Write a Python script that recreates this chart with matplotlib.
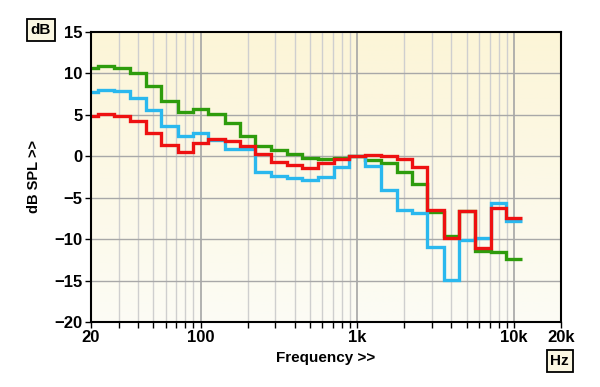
import numpy as np
import matplotlib
matplotlib.use('Agg')
import matplotlib.pyplot as plt
from matplotlib.ticker import FixedLocator, FixedFormatter, NullLocator

plt.rcParams['font.family'] = ['Liberation Sans', 'DejaVu Sans']

# third-octave band centres (Hz)
bandas = [20, 25, 31.5, 40, 50, 63, 80, 100, 125, 160, 200, 250, 315, 400,
          500, 630, 800, 1000, 1250, 1600, 2000, 2500, 3150, 4000, 5000,
          6300, 8000, 10000]

verde = [10.6, 10.9, 10.6, 10.0, 8.5, 6.7, 5.3, 5.7, 5.1, 4.0, 2.45, 1.2,
         0.7, 0.25, -0.15, -0.3, -0.15, 0.0, -0.5, -0.8, -1.95, -3.4, -6.7,
         -9.65, -6.6, -11.4, -11.6, -12.4]
azul = [7.8, 8.05, 7.85, 7.05, 5.6, 3.7, 2.45, 2.85, 1.95, 0.9, 0.9, -1.95,
        -2.4, -2.65, -2.9, -2.55, -1.25, 0.0, -1.2, -4.05, -6.45, -6.8,
        -11.0, -14.9, -10.1, -9.85, -5.6, -7.8]
vermelho = [4.85, 5.15, 4.9, 4.2, 2.8, 1.35, 0.55, 1.55, 2.05, 1.85, 1.25,
            0.25, -0.65, -1.05, -1.4, -0.85, -0.3, 0.0, 0.2, 0.05, -0.3,
            -1.25, -6.45, -9.9, -6.6, -11.1, -6.2, -7.4]

x_ticks = [20, 100, 1000, 10000, 20000]
x_labels = ['20', '100', '1k', '10k', '20k']
y_ticks = [15, 10, 5, 0, -5, -10, -15, -20]

# band edges, geometric midpoints
c = np.array(bandas, dtype=float)
bordas = np.concatenate([c * 10 ** -0.05, [c[-1] * 10 ** 0.05]])

fig = plt.figure(figsize=(6, 3.87), dpi=100)
ax = fig.add_axes([0.1517, 0.168, 0.7833, 0.7494])
ax.set_xscale('log')
ax.set_xlim(20, 20000)
ax.set_ylim(-20, 15)

# background gradient
topo = np.array([252, 245, 215]) / 255
base = np.array([252, 252, 245]) / 255
t = np.linspace(0, 1, 256)[:, None]
grad = (topo * (1 - t) + base * t)[:, None, :]
ax.imshow(grad, extent=[0, 1, 0, 1], transform=ax.transAxes,
          aspect='auto', zorder=0)

# grid
menores = [f for d in (10, 100, 1000) for f in range(2 * d, 10 * d, d)]
for f in menores:
    if 20 < f < 20000:
        ax.axvline(f, color='#cfcfcf', lw=1.0, zorder=1)
for f in (100, 1000, 10000):
    ax.axvline(f, color='#a5a5a5', lw=1.2, zorder=1)
for v in y_ticks[1:-1]:
    ax.axhline(v, color='#a8a8a8', lw=1.0, zorder=1)

ax.stairs(verde, bordas, baseline=None, color='#2e9c0c', lw=2.4, zorder=3)
ax.stairs(azul, bordas, baseline=None, color='#2ab8ee', lw=2.4, zorder=4)
ax.stairs(vermelho, bordas, baseline=None, color='#ee1111', lw=2.4, zorder=5)

todos = sorted(set([f for f in menores if 20 <= f <= 20000] + x_ticks))
ax.xaxis.set_major_locator(FixedLocator(todos))
ax.xaxis.set_major_formatter(FixedFormatter(
    [x_labels[x_ticks.index(f)] if f in x_ticks else '' for f in todos]))
ax.xaxis.set_minor_locator(NullLocator())
ax.set_yticks(y_ticks)
ax.tick_params(direction='out', length=4, width=1, labelsize=12, pad=2)
for lab in ax.get_xticklabels() + ax.get_yticklabels():
    lab.set_fontweight('bold')

for s in ax.spines.values():
    s.set_linewidth(1.5)
    s.set_zorder(6)

ax.set_xlabel('Frequency >>', fontsize=11, fontweight='bold', labelpad=4)
ax.set_ylabel('dB SPL >>', fontsize=10.5, fontweight='bold', labelpad=10)

caixa = dict(boxstyle='square,pad=0.25', fc='#fbf7e2', ec='black', lw=1.3)
fig.text(0.068, 0.922, 'dB', fontsize=11, fontweight='bold',
         ha='center', va='center', bbox=caixa)
fig.text(0.933, 0.067, 'Hz', fontsize=11, fontweight='bold',
         ha='center', va='center', bbox=caixa)

fig.savefig('out.png', dpi=100)
